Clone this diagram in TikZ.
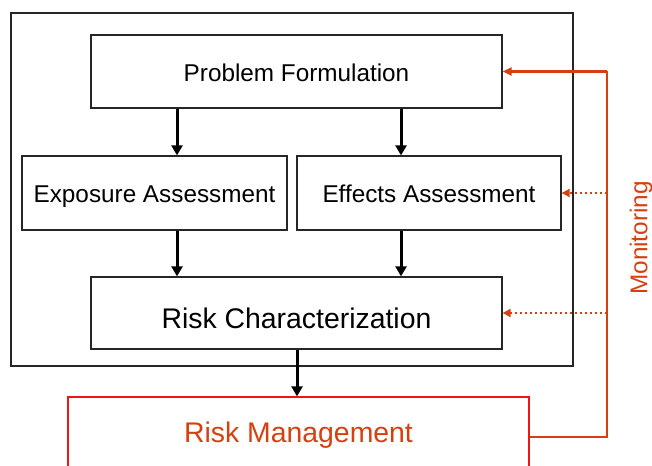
\documentclass[tikz,border=0pt]{standalone}
\usepackage{fontspec}
\setmainfont{Liberation Sans}
\usetikzlibrary{arrows.meta}
\definecolor{mred}{RGB}{214,64,16}
\definecolor{bred}{RGB}{240,20,20}
\tikzset{
  box/.style={draw=black!85, line width=1.3pt, inner sep=0pt, fill=white},
  small/.style={font=\fontsize{24.3}{28}\selectfont},
  big/.style={font=\fontsize{28.4}{32}\selectfont},
  arr/.style={line width=3pt, -{Triangle[length=10pt,width=11pt]}},
  redline/.style={draw=mred, line width=2.2pt},
  redarr/.style={redline, -{Triangle[length=9pt,width=8pt]}},
  dotarr/.style={draw=mred, line width=1.8pt, dash pattern=on 1.8pt off 3.2pt, -{Triangle[length=8pt,width=8pt]}},
}
\begin{document}
\begin{tikzpicture}[x=1pt,y=-1pt]
\useasboundingbox (0,0) rectangle (652,465);
\node[box, minimum width=562pt, minimum height=353pt] (outer) at (292,189.5) {};
\node[box, small, minimum width=411pt, minimum height=73pt, text height=21pt, text depth=0pt] (PF) at (296.5,71.5) {Problem Formulation};
\node[box, small, minimum width=265pt, minimum height=74pt, text height=18pt, text depth=0pt] (EA) at (154.5,193) {Exposure Assessment};
\node[box, small, minimum width=264pt, minimum height=74pt, text height=18pt, text depth=0pt] (EF) at (429,193) {Effects Assessment};
\node[box, big, minimum width=411pt, minimum height=72pt, text height=30pt, text depth=0pt] (RC) at (296.5,313) {Risk Characterization};
\node[draw=bred, line width=1.3pt, inner sep=0pt, big, text=mred, minimum width=461pt, minimum height=76pt, text height=14pt, text depth=0pt] (RM) at (298.5,435) {Risk Management};
\node[small, text=mred, rotate=90] (MON) at (641,238) {Monitoring};
\coordinate (cl) at (177,0);
\coordinate (cr) at (401,0);
\coordinate (cm) at (297,0);
\coordinate (mon) at (607,437);
\draw[arr] (PF.south -| cl) -- (EA.north -| cl);
\draw[arr] (PF.south -| cr) -- (EF.north -| cr);
\draw[arr] (EA.south -| cl) -- (RC.north -| cl);
\draw[arr] (EF.south -| cr) -- (RC.north -| cr);
\draw[arr] (RC.south -| cm) -- (RM.north -| cm);
\draw[redline] (RM.east |- mon) -- (mon) -- (mon |- PF.east);
\draw[redarr] (mon |- PF.east) -- (PF.east);
\draw[dotarr] (mon |- EF.east) -- (EF.east);
\draw[dotarr] (mon |- RC.east) -- (RC.east);
\end{tikzpicture}
\end{document}
